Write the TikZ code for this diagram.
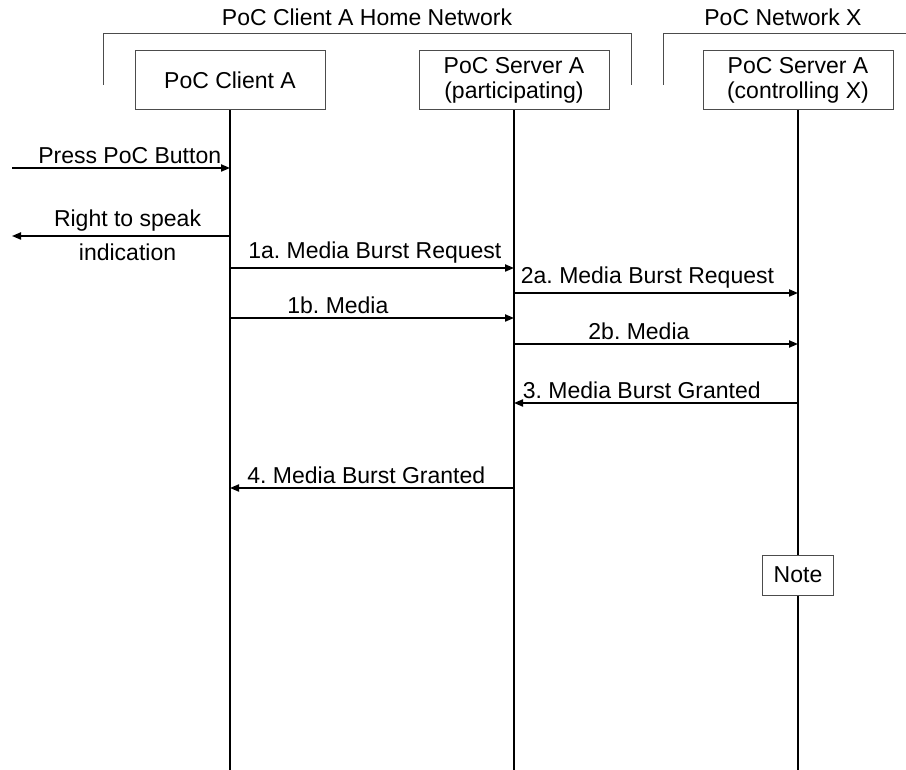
\documentclass[tikz,border=0pt]{standalone}
\usepackage{fontspec}
\setmainfont{Liberation Sans}
\usetikzlibrary{arrows.meta,positioning,calc}
\frenchspacing

\begin{document}
\begin{tikzpicture}[x=0.5pt, y=-0.5pt, >={Triangle[length=4.5pt,width=3.6pt]}, font=\fontsize{11.5}{12.5}\selectfont]
    \tikzstyle{entity}=[draw=black!70, line width=0.5pt, fill=white, minimum width=95pt, minimum height=29.5pt, align=center, inner sep=1pt]
    \tikzstyle{notebox}=[draw=black!70, line width=0.5pt, fill=white, minimum width=35.5pt, minimum height=20pt, inner sep=1pt]
    \tikzstyle{lifeline}=[line width=1pt]
    \tikzstyle{msg}=[->, line width=0.75pt, every node/.style={inner sep=2pt}]
    \tikzstyle{netline}=[draw=black!70, line width=0.5pt]
    \useasboundingbox (0,0) rectangle (906,770);

    % networks
    \coordinate (H1) at (103,85);
    \coordinate (H2) at (103,34);
    \coordinate (H3) at (631,34);
    \coordinate (H4) at (631,85);
    \coordinate (X1) at (663,85);
    \coordinate (X2) at (663,34);
    \coordinate (X3) at (906,34);
    \draw[netline] (H1) -- (H2) -- (H3) -- (H4);
    \draw[netline] (X1) -- (X2) -- (X3);
    \node (HN) at (367,17) {PoC Client A Home Network};
    \node (XN) at (783,17) {PoC Network X};

    % entities and lifelines
    \node[entity]   (A) at (230,80.5)   {PoC Client A};
    \node[entity]   (B) at (514,80.5)   {PoC Server A\\(participating)};
    \node[entity]   (C) at (798,80.5)   {PoC Server A\\(controlling X)};
    \coordinate (Aend) at (230,770);
    \coordinate (Bend) at (514,770);
    \coordinate (Cend) at (798,770);
    \draw[lifeline] (A) -- (Aend);
    \draw[lifeline] (B) -- (Bend);
    \draw[lifeline] (C) -- (Cend);
    \node[notebox]  (N) at (798,575)    {Note};

    % message points
    \coordinate (p0) at (12,168);   \coordinate (a0) at (230,168);
    \coordinate (r1) at (12,236);   \coordinate (a1) at (230,236);
    \coordinate (a2) at (230,268);  \coordinate (b2) at (514,268);
    \coordinate (b3) at (514,293);  \coordinate (c3) at (798,293);
    \coordinate (a4) at (230,318);  \coordinate (b4) at (514,318);
    \coordinate (b5) at (514,344);  \coordinate (c5) at (798,344);
    \coordinate (c6) at (798,403);  \coordinate (b6) at (514,403);
    \coordinate (b7) at (514,488);  \coordinate (a7) at (230,488);

    % messages
    \draw[msg] (p0) -- node[above, pos=.54] {Press PoC Button} (a0);
    \draw[msg] (a1) -- node[above, pos=.47] {Right to speak}
                       node[below=1.5pt, pos=.47] {indication} (r1);
    \draw[msg] (a2) -- node[above, pos=.51] {1a. Media Burst Request} (b2);
    \draw[msg] (b3) -- node[above, pos=.47] {2a. Media Burst Request} (c3);
    \draw[msg] (a4) -- node[above, pos=.38] {1b. Media} (b4);
    \draw[msg] (b5) -- node[above, pos=.44] {2b. Media} (c5);
    \draw[msg] (c6) -- node[above, pos=.55] {3. Media Burst Granted} (b6);
    \draw[msg] (b7) -- node[above, pos=.52] {4. Media Burst Granted} (a7);
\end{tikzpicture}
\end{document}
